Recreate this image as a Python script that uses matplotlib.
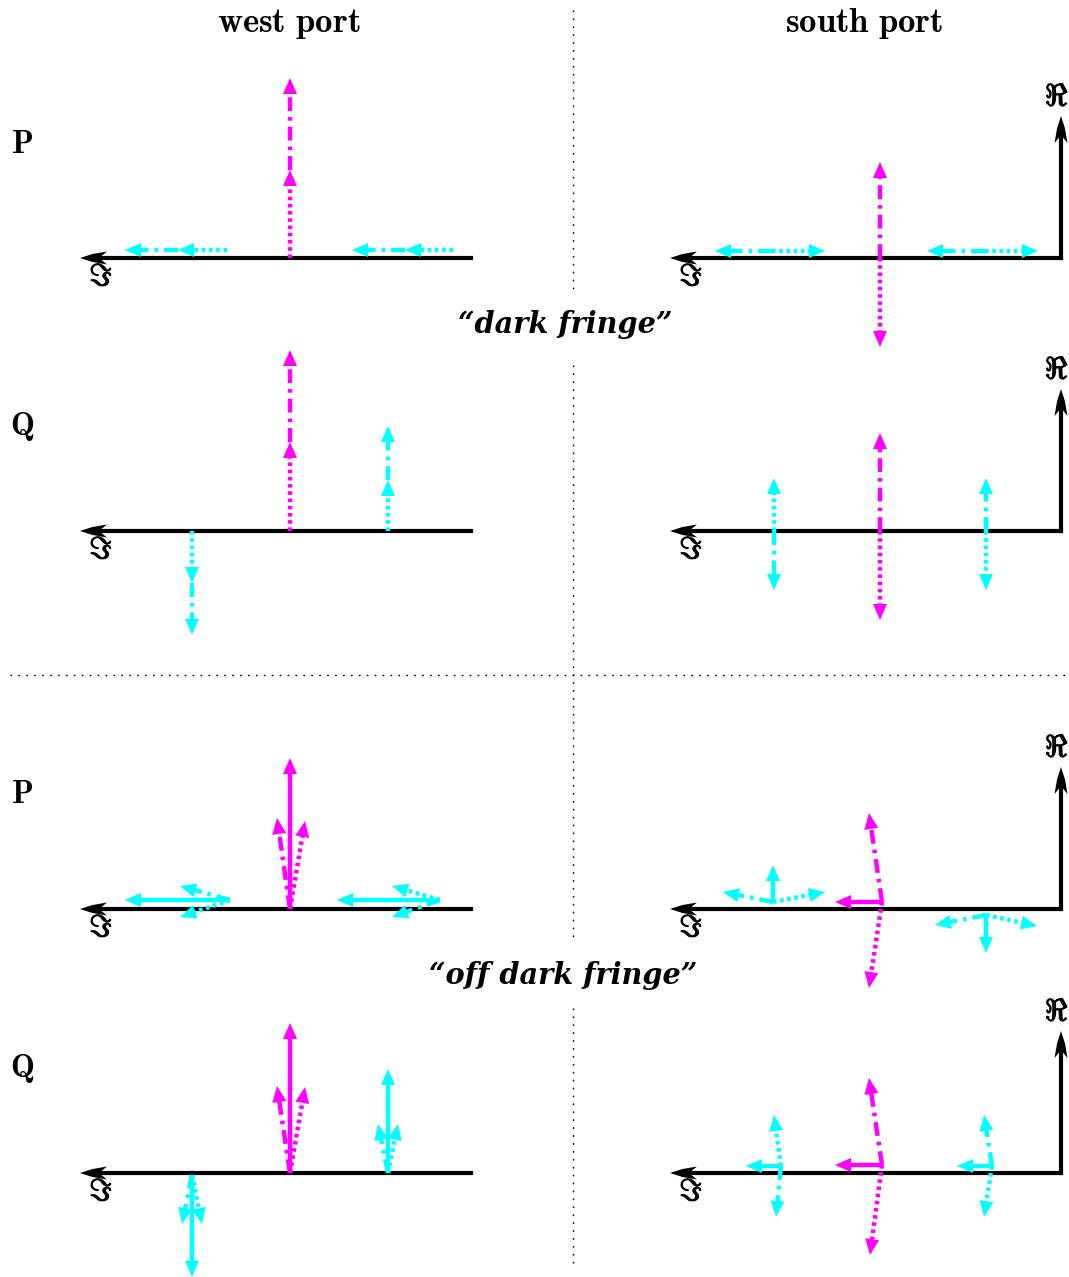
import numpy as np
import matplotlib.pyplot as plt
import matplotlib.patheffects as pe
from matplotlib.patches import Polygon

plt.rcParams['mathtext.fontset'] = 'cm'
plt.rcParams['lines.scale_dashes'] = False

# Phasor diagrams of the P and Q quadratures at the west and south ports.
# Each list holds (lower sideband, carrier, upper sideband).
# Pairs are (Im, Re) in units of 100 px: Im is drawn to the left, Re upward.
# DOT / DASH are the two arm phasors, SUM is their combined field.

WP_DARK_TAIL = [(2.44, 0.08), (1.81, 0.0), (0.18, 0.08)]
WP_DARK_DOT = [(0.49, 0.0), (0.0, 0.88), (0.48, 0.0)]
WP_DARK_DASH = [(0.53, 0.0), (0.0, 0.92), (0.53, 0.0)]

WQ_DARK_TAIL = [(2.79, 0.0), (1.81, 0.0), (0.83, 0.0)]
WQ_DARK_DOT = [(0.0, -0.52), (0.0, 0.89), (0.0, 0.51)]
WQ_DARK_DASH = [(0.0, -0.52), (0.0, 0.92), (0.0, 0.54)]

SP_DARK_TAIL = [(2.89, 0.07), (1.81, 0.0), (0.76, 0.07)]
SP_DARK_DOT = [(-0.53, 0.0), (0.0, -0.89), (-0.53, 0.0)]
SP_DARK_DASH = [(0.57, 0.0), (0.0, 0.96), (0.58, 0.0)]

SQ_DARK_TAIL = [(2.87, 0.0), (1.81, 0.0), (0.75, 0.0)]
SQ_DARK_DOT = [(0.0, 0.53), (0.0, -0.89), (0.0, -0.59)]
SQ_DARK_DASH = [(0.0, -0.59), (0.0, 0.98), (0.0, 0.53)]

WP_OFF_TAIL = [(2.41, 0.09), (1.81, 0.0), (0.31, 0.09)]
WP_OFF_DOT = [(0.50, -0.17), (-0.15, 0.88), (0.48, 0.14)]
WP_OFF_DASH = [(0.50, 0.14), (0.13, 0.91), (0.48, -0.17)]
WP_OFF_SUM = [(1.05, 0.0), (0.0, 1.51), (1.03, 0.0)]

WQ_OFF_TAIL = [(2.79, -0.02), (1.81, 0.0), (0.83, 0.0)]
WQ_OFF_DOT = [(-0.10, -0.49), (-0.15, 0.86), (-0.10, 0.49)]
WQ_OFF_DASH = [(0.10, -0.49), (0.13, 0.87), (0.10, 0.49)]
WQ_OFF_SUM = [(0.0, -1.02), (0.0, 1.50), (0.0, 1.04)]

SP_OFF_TAIL = [(2.88, 0.07), (1.79, 0.07), (0.75, -0.06)]
SP_OFF_DOT = [(-0.52, 0.10), (0.13, -0.86), (-0.51, -0.11)]
SP_OFF_DASH = [(0.50, 0.10), (0.13, 0.89), (0.51, -0.10)]
SP_OFF_SUM = [(0.0, 0.37), (0.47, 0.0), (0.0, -0.38)]

SQ_OFF_TAIL = [(2.80, 0.07), (1.79, 0.08), (0.69, 0.07)]
SQ_OFF_DOT = [(0.07, 0.51), (0.12, -0.90), (0.08, -0.51)]
SQ_OFF_DASH = [(0.05, -0.51), (0.13, 0.87), (0.08, 0.51)]
SQ_OFF_SUM = [(0.35, 0.0), (0.47, 0.0), (0.35, 0.0)]

W, H = 1069, 1277
SCALE = 100.0
CYAN, MAGENTA = '#00ffff', '#ff00ff'
GROUP_COLORS = [CYAN, MAGENTA, CYAN]
DOTTED = (0, (2.6, 2.6))
DASHDOT = (0, (10, 4.3, 2.6, 4.3))
LW = 3.2

fig = plt.figure(figsize=(W / 100, H / 100), dpi=100)
ax = fig.add_axes([0, 0, 1, 1])
ax.set_xlim(0, W)
ax.set_ylim(H, 0)
ax.axis('off')

bold_glyph = [pe.withStroke(linewidth=0.9, foreground='black')]


def arrow(x0, y0, x1, y1, color, ls='-', hl=16, hw=14, z=3):
    d = np.array([x1 - x0, y1 - y0], float)
    d /= np.hypot(*d)
    n = np.array([-d[1], d[0]])
    tip = np.array([x1, y1])
    base = tip - hl * d
    ax.plot([x0, base[0] + 2 * d[0]], [y0, base[1] + 2 * d[1]], color=color,
            lw=LW, linestyle=ls, solid_capstyle='butt', dash_capstyle='butt',
            zorder=z)
    ax.add_patch(Polygon([tip, base + n * hw / 2, base - n * hw / 2],
                         closed=True, fc=color, ec='none', zorder=z))


def axis_arrow(x0, y0, x1, y1, L=27, wd=13, notch=8):
    d = np.array([x1 - x0, y1 - y0], float)
    d /= np.hypot(*d)
    n = np.array([-d[1], d[0]])
    tip = np.array([x1, y1])
    back = tip - L * d
    ax.plot([x0, tip[0] - (L - notch) * d[0]], [y0, tip[1] - (L - notch) * d[1]],
            color='black', lw=3.0, solid_capstyle='projecting', zorder=2)
    side = 0.45 * L
    pts = [tip,
           tip - side * d + n * wd * 0.30,
           back + n * wd / 2,
           tip - (L - notch) * d,
           back - n * wd / 2,
           tip - side * d - n * wd * 0.30]
    ax.add_patch(Polygon(pts, closed=True, fc='black', ec='none', zorder=2))


def panel(ox, oy, south, tails, dots, dashes, sums=None, chained=False):
    to_px = lambda u, v: (ox - SCALE * u, oy - SCALE * v)
    axis_arrow(ox, oy, ox - 391, oy)
    ax.text(ox - 370, oy + 19, r'$\Im$', fontsize=22, ha='center', va='center',
            path_effects=bold_glyph)
    if south:
        axis_arrow(ox, oy, ox, oy - 142)
        ax.text(ox - 4, oy - 161, r'$\Re$', fontsize=22, ha='center', va='center',
                path_effects=bold_glyph)
    for i, color in enumerate(GROUP_COLORS):
        tu, tv = tails[i]
        du, dv = dots[i]
        au, av = dashes[i]
        x0, y0 = to_px(tu, tv)
        xd, yd = to_px(tu + du, tv + dv)
        arrow(x0, y0, xd, yd, color, DOTTED)
        if chained:
            xa, ya = to_px(tu + du + au, tv + dv + av)
            arrow(xd, yd, xa, ya, color, DASHDOT)
        else:
            xa, ya = to_px(tu + au, tv + av)
            arrow(x0, y0, xa, ya, color, DASHDOT)
        if sums is not None:
            su, sv = sums[i]
            xs, ys = to_px(tu + su, tv + sv)
            arrow(x0, y0, xs, ys, color, '-', z=4)


panel(471, 258, False, WP_DARK_TAIL, WP_DARK_DOT, WP_DARK_DASH, chained=True)
panel(471, 531, False, WQ_DARK_TAIL, WQ_DARK_DOT, WQ_DARK_DASH, chained=True)
panel(1061, 258, True, SP_DARK_TAIL, SP_DARK_DOT, SP_DARK_DASH)
panel(1061, 531, True, SQ_DARK_TAIL, SQ_DARK_DOT, SQ_DARK_DASH)
panel(471, 909, False, WP_OFF_TAIL, WP_OFF_DOT, WP_OFF_DASH, WP_OFF_SUM)
panel(471, 1173, False, WQ_OFF_TAIL, WQ_OFF_DOT, WQ_OFF_DASH, WQ_OFF_SUM)
panel(1061, 909, True, SP_OFF_TAIL, SP_OFF_DOT, SP_OFF_DASH, SP_OFF_SUM)
panel(1061, 1173, True, SQ_OFF_TAIL, SQ_OFF_DOT, SQ_OFF_DASH, SQ_OFF_SUM)

# separators
sep = dict(color='black', lw=1.0, linestyle=(0, (1.2, 4.5)))
for y0, y1 in [(10, 292), (365, 940), (1008, 1265)]:
    ax.plot([573, 573], [y0, y1], **sep)
ax.plot([10, 1065], [675, 675], **sep)

# headings and row labels
ax.text(289, 32, r'$\mathbf{west\ port}$', fontsize=25, ha='center', va='baseline')
ax.text(864, 32, r'$\mathbf{south\ port}$', fontsize=25, ha='center', va='baseline')
for y, lab in [(153, 'P'), (435, 'Q'), (803, 'P'), (1077, 'Q')]:
    ax.text(22, y, r'$\mathbf{%s}$' % lab, fontsize=23, ha='center', va='baseline')

quote = dict(family='DejaVu Serif', weight='bold', style='italic', fontsize=20.7,
             ha='center', va='baseline')
ax.text(565, 333, '\u201cdark fringe\u201d', **quote)
ax.text(563, 984, '\u201coff dark fringe\u201d', **quote)

fig.savefig('out.png', dpi=100)
